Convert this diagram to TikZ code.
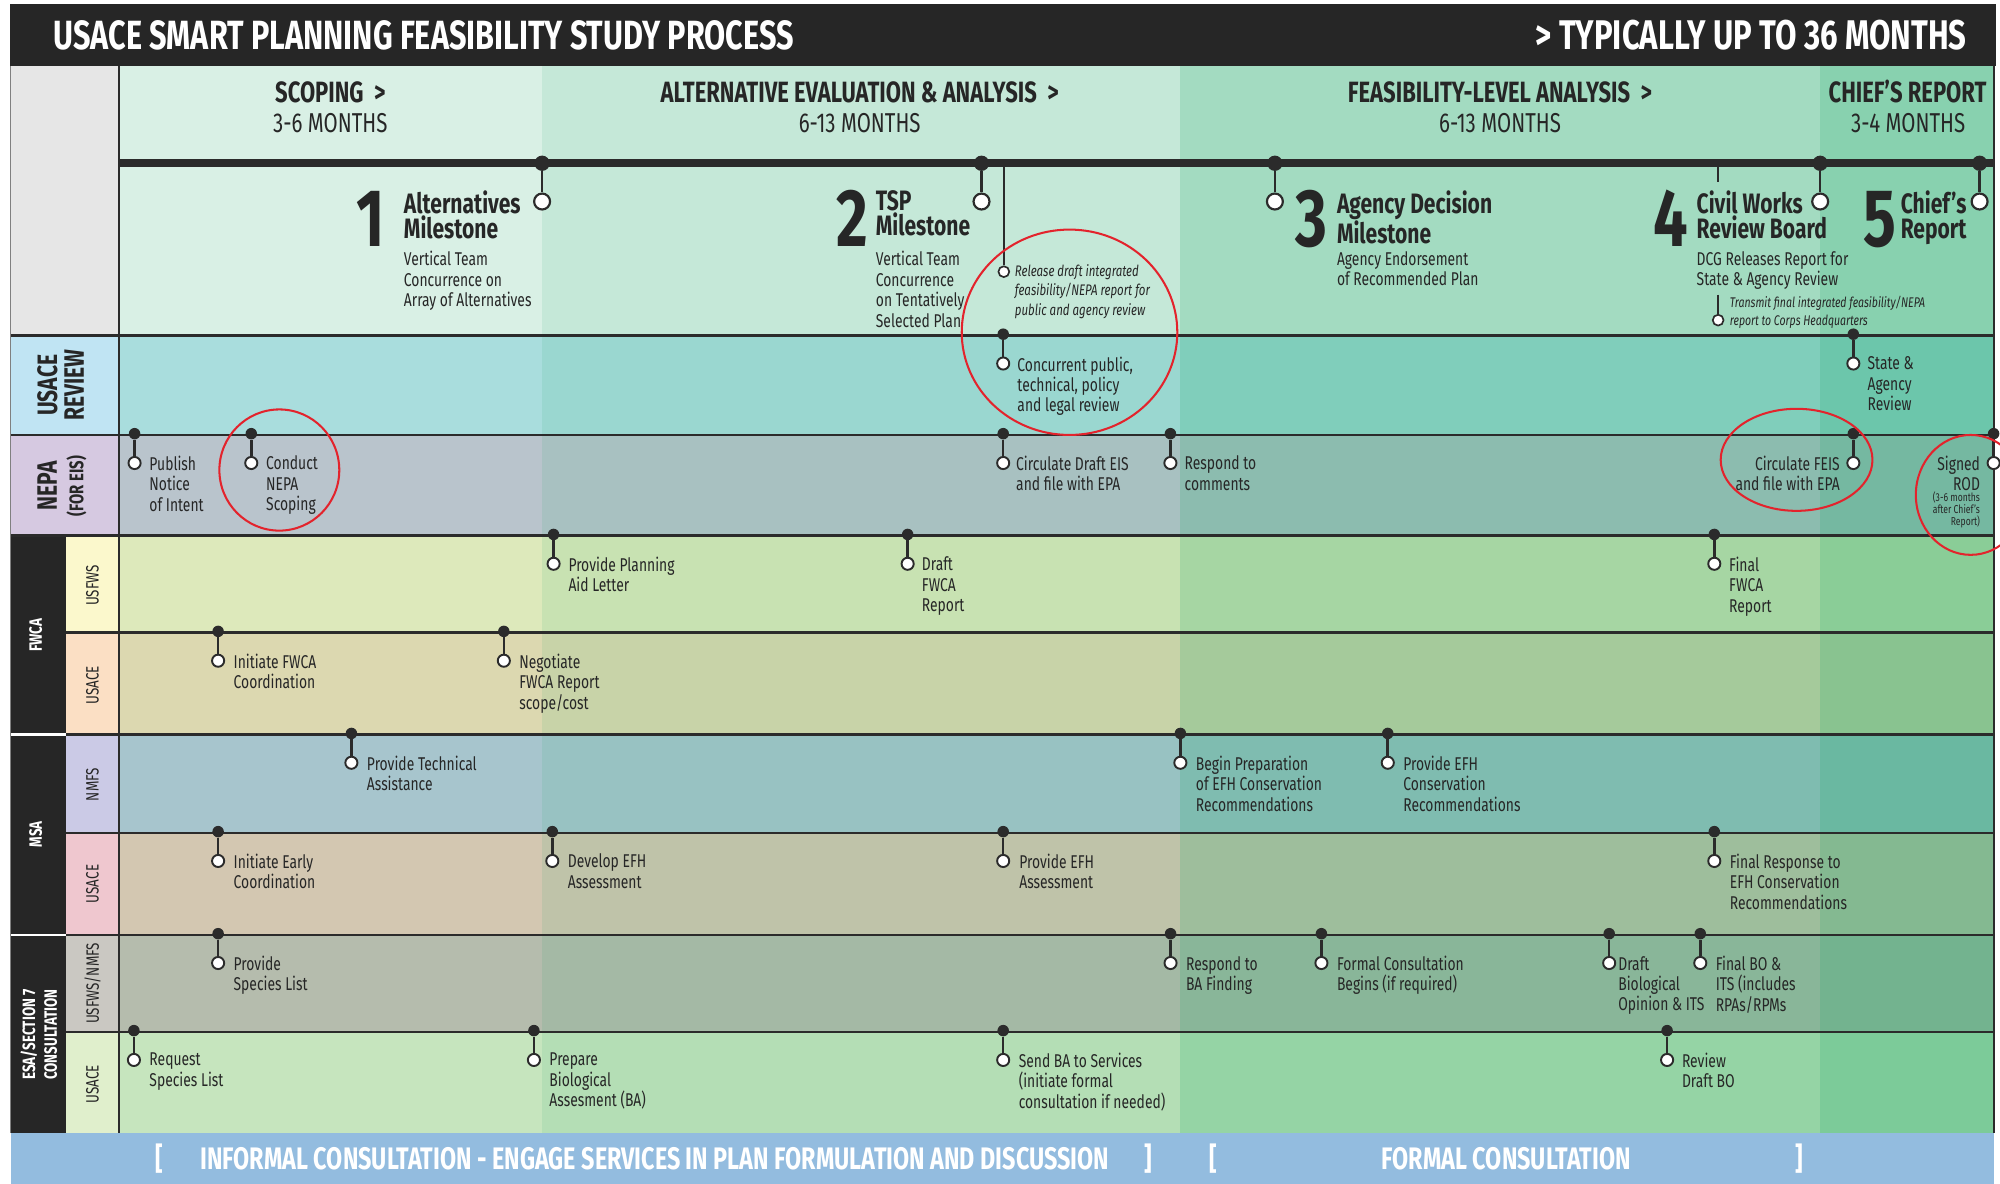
\documentclass[tikz,border=0pt]{standalone}
\usepackage{fontspec}
\setmainfont{Fira Sans}[FakeStretch=0.75]
\definecolor{dk}{HTML}{2B2B2B}
\definecolor{tx}{HTML}{262626}
\definecolor{titlebg}{HTML}{262626}
\definecolor{hdrgray}{HTML}{E6E6E6}
\definecolor{bluebar}{HTML}{93BCDF}
\definecolor{ring}{HTML}{E3232C}
\definecolor{ov}{HTML}{18A866}
\definecolor{cHdr}{HTML}{D9F0E5}
\definecolor{cRev}{HTML}{A9DDDD}
\definecolor{cNepa}{HTML}{B9C4CC}
\definecolor{cUsfws}{HTML}{DDE9BB}
\definecolor{cFwUs}{HTML}{DCD8B0}
\definecolor{cNmfs}{HTML}{A7C5CD}
\definecolor{cMsaUs}{HTML}{D3C7B1}
\definecolor{cEsaSv}{HTML}{B5BCAD}
\definecolor{cEsaUs}{HTML}{C6E5BE}
\definecolor{lRev}{HTML}{C0E4F3}
\definecolor{lNepa}{HTML}{D6C9E1}
\definecolor{lUsfws}{HTML}{FBF8CC}
\definecolor{lFwUs}{HTML}{FBDFC4}
\definecolor{lNmfs}{HTML}{CBCAE6}
\definecolor{lMsaUs}{HTML}{EFC7CF}
\definecolor{lEsaSv}{HTML}{CAC8C2}
\definecolor{lEsaUs}{HTML}{E0EFCC}
\newcommand\evR[5]{%
  \node[dotn] (#1d) at (#2,#3-1) {};
  \node[ocirc] (#1c) at (#2,#3+22) {};
  \draw[stem] (#1d) -- (#1c);
  \node[evtxt,anchor=north west,align=left] (#1t) at (#2+#4,#3+16.4) {#5};}
\newcommand\evL[4]{%
  \node[dotn] (#1d) at (#2,#3-1) {};
  \node[ocirc] (#1c) at (#2,#3+22) {};
  \draw[stem] (#1d) -- (#1c);
  \node[evtxt,anchor=north east,align=right] (#1t) at (#2-10.5,#3+16.4) {#4};}
\begin{document}
\begin{tikzpicture}[x=1pt,y=-1pt,
  dotn/.style={circle,fill=dk,inner sep=0pt,minimum size=9pt},
  ocirc/.style={circle,draw=dk,fill=white,line width=1.5pt,inner sep=0pt,minimum size=9.5pt},
  mdot/.style={circle,fill=dk,inner sep=0pt,minimum size=12pt},
  mcirc/.style={circle,draw=dk,fill=white,line width=1.7pt,inner sep=0pt,minimum size=12.5pt},
  sdot/.style={circle,fill=dk,inner sep=0pt,minimum size=6pt},
  scirc/.style={circle,draw=dk,fill=white,line width=1.3pt,inner sep=0pt,minimum size=8.5pt},
  stem/.style={dk,line width=2pt},
  rowline/.style={dk,line width=2pt},
  evtxt/.style={inner sep=0pt,font={\fontsize{14.5}{16}\selectfont},text=tx},
  mtitle/.style={inner sep=0pt,anchor=north west,align=left,font={\fontsize{22}{20}\selectfont\bfseries},text=tx},
  mdesc/.style={inner sep=0pt,anchor=north west,align=left,font={\fontsize{14.5}{16}\selectfont},text=tx},
  digit/.style={inner sep=0pt,anchor=base east,font={\fontsize{64}{64}\selectfont\bfseries},text=tx},
  smallit/.style={inner sep=0pt,anchor=north west,align=left,font={\fontsize{12}{15.5}\selectfont\itshape},text=tx},
  phase/.style={inner sep=0pt,anchor=base,font={\fontsize{23}{24}\selectfont\bfseries},text=tx},
  phsub/.style={inner sep=0pt,anchor=base,font={\fontsize{21.4}{22}\selectfont},text=tx},
  rot/.style={rotate=90,inner sep=0pt,align=center},
  ringst/.style={ring,line width=1.6pt},
  bartxt/.style={inner sep=0pt,anchor=base,text=white,font={\fontsize{24.4}{25}\selectfont\bfseries}}
]
\useasboundingbox (0,0) rectangle (1568,928);
% ---------- title bar ----------
\fill[titlebg] (8,3) rectangle (1565,52);
\node[inner sep=0pt,anchor=base west,text=white,font={\fontsize{32}{33}\selectfont\bfseries}] (title) at (42,39) {USACE SMART PLANNING FEASIBILITY STUDY PROCESS};
\node[inner sep=0pt,anchor=base east,text=white,font={\fontsize{32.5}{33}\selectfont\bfseries}] (dur) at (1542,39) {> TYPICALLY UP TO 36 MONTHS};
% ---------- backgrounds ----------
\fill[hdrgray] (8,52) rectangle (93,263);
\fill[cHdr] (93,52) rectangle (1563,263);
\fill[cRev] (93,263) rectangle (1563,341);
\fill[cNepa] (93,341) rectangle (1563,420);
\fill[cUsfws] (93,420) rectangle (1563,496);
\fill[cFwUs] (93,496) rectangle (1563,576);
\fill[cNmfs] (93,576) rectangle (1563,653);
\fill[cMsaUs] (93,653) rectangle (1563,733);
\fill[cEsaSv] (93,733) rectangle (1563,809);
\fill[cEsaUs] (93,809) rectangle (1563,888);
\fill[ov,opacity=.10] (425,52) rectangle (925,888);
\fill[ov,opacity=.28] (925,52) rectangle (1427,888);
\fill[ov,opacity=.42] (1427,52) rectangle (1563,888);
% left labels
\fill[lRev] (8,263) rectangle (93,341);
\fill[lNepa] (8,341) rectangle (93,420);
\fill[titlebg] (8,420) rectangle (52,888);
\fill[lUsfws] (52,420) rectangle (93,496);
\fill[lFwUs] (52,496) rectangle (93,576);
\fill[lNmfs] (52,576) rectangle (93,653);
\fill[lMsaUs] (52,653) rectangle (93,733);
\fill[lEsaSv] (52,733) rectangle (93,809);
\fill[lEsaUs] (52,809) rectangle (93,888);
% ---------- bottom bar ----------
\fill[bluebar] (8.5,888) rectangle (1563,928);
% ---------- grid lines ----------
\draw[rowline] (8,263) -- (1563,263);
\draw[rowline] (8,341) -- (1563,341);
\draw[rowline] (8,420) -- (1563,420);
\draw[rowline] (52,496) -- (1563,496);
\draw[rowline] (52,576) -- (1563,576);
\draw[rowline] (52,653) -- (1563,653);
\draw[rowline] (52,733) -- (1563,733);
\draw[rowline] (52,809) -- (1563,809);
\draw[white,line width=2pt] (8,576) -- (52,576);
\draw[white,line width=2pt] (8,733) -- (52,733);
\draw[dk,line width=1.6pt] (93,52) -- (93,888);
\draw[dk,line width=1.6pt] (1563,52) -- (1563,888);
\draw[gray,line width=1pt] (8.5,52) -- (8.5,888);
% ---------- label texts ----------
\node[rot,font={\fontsize{22}{21}\selectfont\bfseries},text=tx] (lbrev) at (47.5,302) {USACE\\REVIEW};
\node[rot,font={\fontsize{22}{21}\selectfont\bfseries},text=tx] (lbnepa) at (37,381) {NEPA};
\node[rot,font={\fontsize{15.5}{15}\selectfont\bfseries},text=tx] (lbeis) at (60,381) {(FOR EIS)};
\node[rot,font={\fontsize{14}{14}\selectfont\bfseries},text=white] (lbfwca) at (28,498) {FWCA};
\node[rot,font={\fontsize{14}{14}\selectfont\bfseries},text=white] (lbmsa) at (28,654) {MSA};
\node[rot,font={\fontsize{14}{17}\selectfont\bfseries},text=white] (lbesa) at (30.5,811) {ESA/SECTION 7\\CONSULTATION};
\node[rot,font={\fontsize{14}{14}\selectfont},text=tx] (sb1) at (72.5,459) {USFWS};
\node[rot,font={\fontsize{14}{14}\selectfont},text=tx] (sb2) at (72.5,537) {USACE};
\node[rot,font={\fontsize{14}{14}\selectfont},text=tx] (sb3) at (72.5,615) {NMFS};
\node[rot,font={\fontsize{14}{14}\selectfont},text=tx] (sb4) at (72.5,693) {USACE};
\node[rot,font={\fontsize{14}{14}\selectfont},text=tx] (sb5) at (72.5,771) {USFWS/NMFS};
\node[rot,font={\fontsize{14}{14}\selectfont},text=tx] (sb6) at (72.5,850) {USACE};
% ---------- phase headers ----------
\node[phase] (ph1) at (259,80) {SCOPING~~>};
\node[phsub] (ps1) at (259,104) {3-6 MONTHS};
\node[phase] (ph2) at (674,80) {ALTERNATIVE EVALUATION \& ANALYSIS~~>};
\node[phsub] (ps2) at (674,104) {6-13 MONTHS};
\node[phase] (ph3) at (1176,80) {FEASIBILITY-LEVEL ANALYSIS~~>};
\node[phsub] (ps3) at (1176,104) {6-13 MONTHS};
\node[phase] (ph4) at (1495.5,80) {CHIEF’S REPORT};
\node[phsub] (ps4) at (1496,104) {3-4 MONTHS};
% ---------- timeline ----------
\coordinate (tlA) at (93,128);
\coordinate (tlB) at (1563,128);
\draw[dk,line width=6pt] (tlA) -- (tlB);
% milestone 1
\node[mdot] (m1d) at (425,128) {};
\node[mcirc] (m1c) at (425,158) {};
\draw[stem] (m1d) -- (m1c);
\node[digit] (m1n) at (302,193.5) {1};
\node[mtitle] (m1t) at (316.5,149) {Alternatives\\Milestone};
\node[mdesc] (m1s) at (316.5,197) {Vertical Team\\Concurrence on\\Array of Alternatives};
% milestone 2
\node[mdot] (m2d) at (769.5,128) {};
\node[mcirc] (m2c) at (769.5,158) {};
\draw[stem] (m2d) -- (m2c);
\node[digit] (m2n) at (681,193.5) {2};
\node[mtitle] (m2t) at (686.5,149) {TSP\\Milestone};
\node[mdesc] (m2s) at (686.5,197) {Vertical Team\\Concurrence\\on Tentatively\\Selected Plan};
\node[sdot] (rld) at (787,128) {};
\node[scirc] (rlc) at (787,213) {};
\draw[dk,line width=1.5pt] (rld) -- (rlc);
\node[smallit] (rlt) at (795.5,207) {Release draft integrated\\feasibility/NEPA report for\\public and agency review};
% milestone 3
\node[mdot] (m3d) at (999.5,128) {};
\node[mcirc] (m3c) at (999.5,158) {};
\draw[stem] (m3d) -- (m3c);
\node[digit] (m3n) at (1041,193.5) {3};
\node[mtitle] (m3t) at (1048,149) {Agency Decision\\Milestone};
\node[mdesc] (m3s) at (1048,197) {Agency Endorsement\\of Recommended Plan};
% milestone 4
\node[mdot] (m4d) at (1427,128) {};
\node[mcirc] (m4c) at (1427,158) {};
\draw[stem] (m4d) -- (m4c);
\node[digit] (m4n) at (1324,193.5) {4};
\node[mtitle] (m4t) at (1330,149) {Civil Works\\Review Board};
\node[mdesc] (m4s) at (1330,197) {DCG Releases Report for\\State \& Agency Review};
\node[sdot] (trd) at (1347,128) {};
\coordinate (trs) at (1347,143);
\draw[dk,line width=1.3pt] (trd) -- (trs);
\coordinate (trb) at (1347,231);
\node[scirc] (trc) at (1347,251) {};
\draw[dk,line width=1.3pt] (trb) -- (trc);
\node[smallit,font={\fontsize{11}{14}\selectfont\itshape}] (trt) at (1356,232) {Transmit final integrated feasibility/NEPA\\report to Corps Headquarters};
% milestone 5
\node[mdot] (m5d) at (1552,128) {};
\node[mcirc] (m5c) at (1552,158) {};
\draw[stem] (m5d) -- (m5c);
\node[digit] (m5n) at (1487,193.5) {5};
\node[mtitle] (m5t) at (1490,149) {Chief’s\\Report};
% ---------- USACE review ----------
\evR{cpt}{786.5}{263}{11}{Concurrent public,\\technical, policy\\and legal review}
\evR{sar}{1453}{263}{11}{State \&\\Agency\\Review}
% ---------- NEPA ----------
\evR{pub}{105.5}{341}{11.5}{Publish\\Notice\\of Intent}
\evR{cnd}{197}{341}{11.5}{Conduct\\NEPA\\Scoping}
\evR{cde}{786.5}{341}{10}{Circulate Draft EIS\\and file with EPA}
\evR{rsp}{917.6}{341}{11}{Respond to\\comments}
\evL{feis}{1453}{341}{Circulate FEIS\\and file with EPA}
\evL{rod}{1563}{341}{Signed\\ROD}
\node[inner sep=0pt,anchor=north east,align=right,text=tx,font={\fontsize{9}{9.6}\selectfont}] (rods) at (1552.5,385) {(3-6 months\\after Chief’s\\Report)};
% ---------- FWCA ----------
\evR{pal}{434}{420}{11.5}{Provide Planning\\Aid Letter}
\evR{dfw}{711.6}{420}{11}{Draft\\FWCA\\Report}
\evR{ffw}{1344}{420}{11.5}{Final\\FWCA\\Report}
\evR{ifw}{171}{496}{12}{Initiate FWCA\\Coordination}
\evR{neg}{395}{496}{12}{Negotiate\\FWCA Report\\scope/cost}
% ---------- MSA ----------
\evR{pta}{275.5}{576}{12}{Provide Technical\\Assistance}
\evR{bep}{925.4}{576}{12}{Begin Preparation\\of EFH Conservation\\Recommendations}
\evR{pec}{1088}{576}{12}{Provide EFH\\Conservation\\Recommendations}
\evR{iec}{171}{653}{12}{Initiate Early\\Coordination}
\evR{dea}{433}{653}{12}{Develop EFH\\Assessment}
\evR{pea}{786.5}{653}{12.5}{Provide EFH\\Assessment}
\evR{fre}{1344}{653}{12}{Final Response to\\EFH Conservation\\Recommendations}
% ---------- ESA ----------
\evR{psl}{171}{733}{12}{Provide\\Species List}
\evR{rba}{917.7}{733}{12}{Respond to\\BA Finding}
\evR{fcb}{1036}{733}{12}{Formal Consultation\\Begins (if required)}
\evR{dbo}{1261.6}{733}{7}{Draft\\Biological\\Opinion \& ITS}
\evR{fbo}{1333}{733}{12}{Final BO \&\\ITS (includes\\RPAs/RPMs}
\evR{rsl}{105}{809}{12}{Request\\Species List}
\evR{pba}{418.6}{809}{12}{Prepare\\Biological\\Assesment (BA)}
\evR{sba}{786.5}{809}{12}{Send BA to Services\\(initiate formal\\consultation if needed)}
\evR{rdb}{1307}{809}{11.5}{Review\\Draft BO}
% ---------- bottom bar text ----------
\node[bartxt] (b1) at (125,916.5) {[};
\node[bartxt,anchor=base west] (b2) at (157,916.5) {INFORMAL CONSULTATION - ENGAGE SERVICES IN PLAN FORMULATION AND DISCUSSION};
\node[bartxt] (b3) at (900,916.5) {]};
\node[bartxt] (b4) at (951,916.5) {[};
\node[bartxt] (b5) at (1181,916.5) {FORMAL CONSULTATION};
\node[bartxt] (b6) at (1411,916.5) {]};
% ---------- red rings ----------
\draw[ringst] (838.5,260.5) ellipse [x radius=84.5pt, y radius=80.5pt];
\draw[ringst] (219,368.5) ellipse [x radius=47pt, y radius=47.5pt];
\draw[ringst] (1408.5,360.5) ellipse [x radius=59.5pt, y radius=40pt];
\begin{scope}
\clip (0,0) rectangle (1568,928);
\draw[ringst] (1545,388) ellipse [x radius=43pt, y radius=47pt];
\end{scope}
\end{tikzpicture}
\end{document}
